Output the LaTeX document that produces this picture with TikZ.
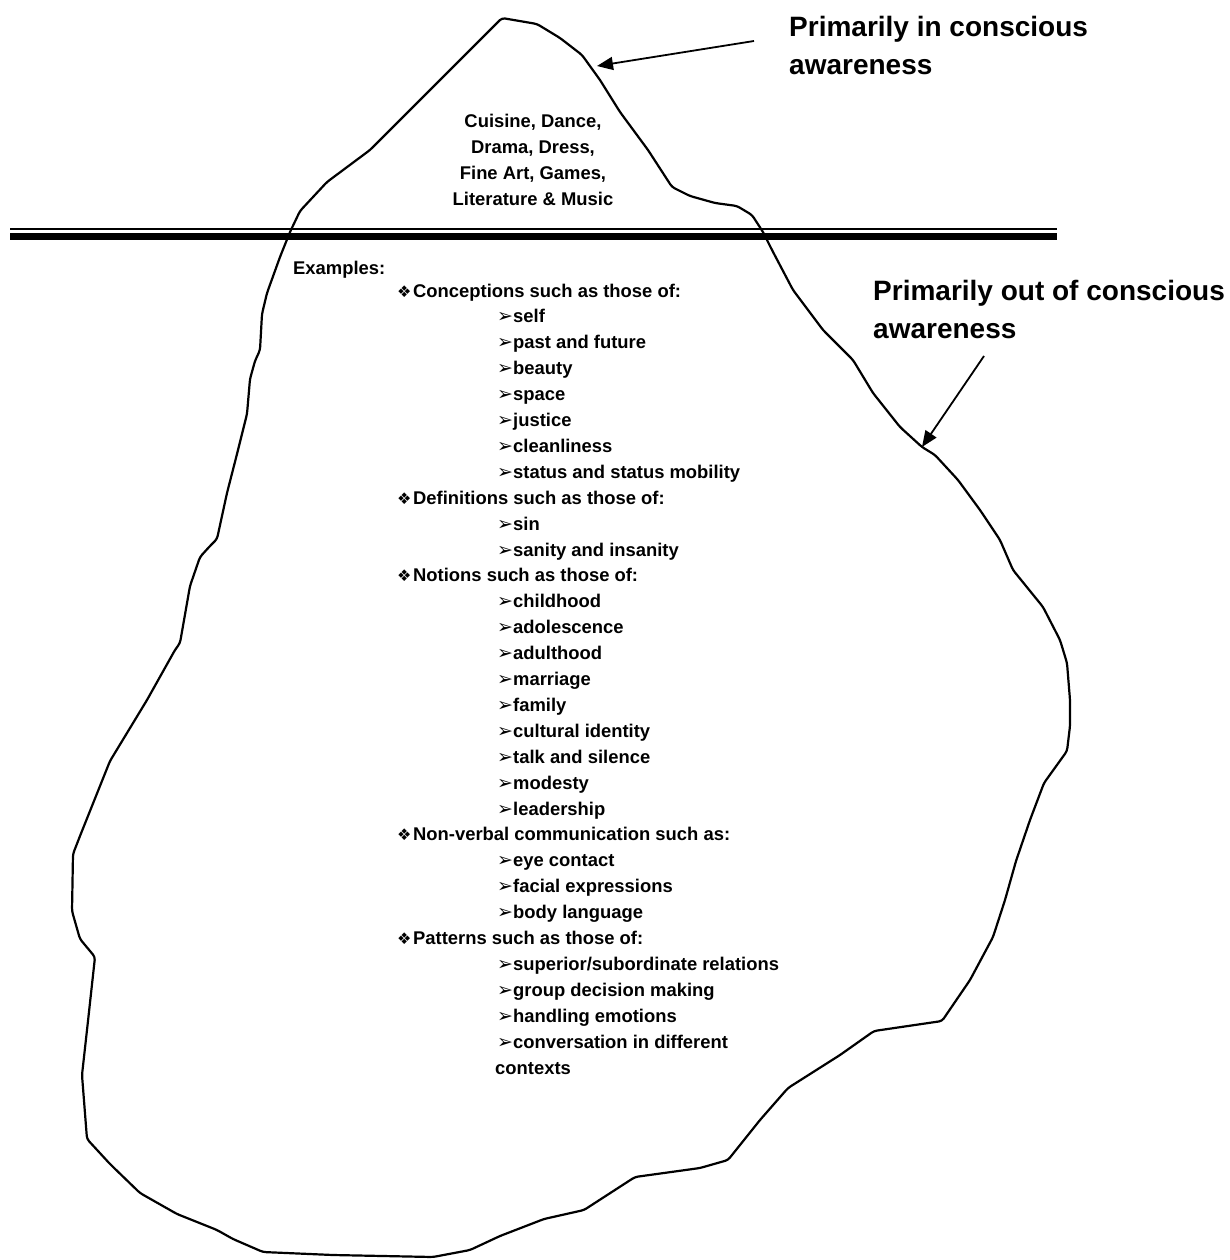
\documentclass[tikz,border=0pt]{standalone}
\usepackage{fontspec}
\setmainfont{Liberation Sans}
\newfontfamily\symfont{DejaVu Sans}
\usetikzlibrary{arrows.meta}
\newcommand\mydia{\makebox[16pt][l]{\raisebox{0pt}{\symfont\fontsize{16}{16}\selectfont ❖}}}
\newcommand\myarr{\makebox[16pt][l]{\raisebox{0pt}{\symfont\fontsize{19}{19}\selectfont ➢}}}
\begin{document}
\begin{tikzpicture}[x=1pt,y=-1pt,
  outline/.style={line width=2.2pt, line join=round, rounded corners=3pt},
  listtxt/.style={anchor=base west, inner sep=0pt, font=\bfseries\fontsize{18.4}{25.8}\selectfont},
  toptxt/.style={anchor=base, inner sep=0pt, font=\bfseries\fontsize{18.4}{25.8}\selectfont},
  lbl/.style={anchor=base west, inner sep=0pt, font=\bfseries\fontsize{28}{38}\selectfont},
  pointer/.style={line width=1.8pt, -{Triangle[length=16pt,width=13pt]}}]
\fill[white] (0,0) rectangle (1229,1260);
\useasboundingbox (0,0) rectangle (1229,1260);

% iceberg outline
\draw[outline] (502,18) -- (537,24) -- (560,38) -- (582,55) -- (600,80) -- (620,112) -- (648,150)
  -- (672,187) -- (690,196) -- (715,203) -- (737,206) -- (752,215) -- (763,232) -- (772,250)
  -- (793,290) -- (823,330) -- (853,360) -- (873,393) -- (900,427) -- (922,447) -- (935,455)
  -- (958,480) -- (980,510) -- (1000,540) -- (1013,570) -- (1043,607) -- (1060,640) -- (1067,663)
  -- (1070,700) -- (1070,726) -- (1067,751) -- (1044,783) -- (1030,820) -- (1016,861) -- (1005,900)
  -- (993,937) -- (970,980) -- (942,1021) -- (874,1031) -- (840,1055) -- (788,1088) -- (760,1120)
  -- (728,1160) -- (700,1168) -- (635,1177) -- (584,1210) -- (544,1219) -- (500,1236) -- (470,1250)
  -- (433,1257) -- (333,1255) -- (263,1252) -- (233,1239) -- (217,1230) -- (177,1214) -- (140,1193)
  -- (110,1164) -- (87,1139) -- (82,1075) -- (88,1021) -- (95,957) -- (80,939) -- (72,911)
  -- (73,854) -- (80,836) -- (110,761) -- (147,700) -- (175,650) -- (180,643) -- (190,586)
  -- (200,557) -- (210,546) -- (217,539) -- (227,493) -- (237,454) -- (247,414) -- (250,379)
  -- (255,361) -- (260,350) -- (262,314) -- (267,293) -- (280,257) -- (290,232) -- (300,211)
  -- (327,182) -- (370,150) -- (410,110) -- cycle;

% water line (double)
\draw[line width=1.8pt] (10,229.2) -- (1057,229.2);
\draw[line width=6.8pt] (10,236.7) -- (1057,236.7);

% visible culture
\node[toptxt] (t1) at (533,128) {Cuisine, Dance,};
\node[toptxt] (t2) at (533,154) {Drama, Dress,};
\node[toptxt] (t3) at (533,180) {Fine Art, Games,};
\node[toptxt] (t4) at (533,205) {Literature \& Music};

% labels and pointers
\node[lbl] (above) at (789,37) {Primarily in conscious};
\node[lbl] (above2) at (789,75) {awareness};
\node[lbl] (below) at (873,300) {Primarily out of conscious};
\node[lbl] (below2) at (873,338) {awareness};
\coordinate (tail1) at (754,41);
\coordinate (tip1) at (597,66);
\coordinate (tail2) at (984,356);
\coordinate (tip2) at (922,447);
\draw[pointer] (tail1) -- (tip1);
\draw[pointer] (tail2) -- (tip2);

% hidden culture list
\node[listtxt] (ex) at (293,274) {Examples:};
\node[listtxt] (h1) at (397,297) {\mydia Conceptions such as those of:};
\node[listtxt] (a1) at (497,322.9) {\myarr self};
\node[listtxt] (a2) at (497,348.8) {\myarr past and future};
\node[listtxt] (a3) at (497,374.7) {\myarr beauty};
\node[listtxt] (a4) at (497,400.6) {\myarr space};
\node[listtxt] (a5) at (497,426.5) {\myarr justice};
\node[listtxt] (a6) at (497,452.4) {\myarr cleanliness};
\node[listtxt] (a7) at (497,478.3) {\myarr status and status mobility};
\node[listtxt] (h2) at (397,504.2) {\mydia Definitions such as those of:};
\node[listtxt] (b1) at (497,530.1) {\myarr sin};
\node[listtxt] (b2) at (497,556) {\myarr sanity and insanity};
\node[listtxt] (h3) at (397,581.9) {\mydia Notions such as those of:};
\node[listtxt] (c1) at (497,607.8) {\myarr childhood};
\node[listtxt] (c2) at (497,633.7) {\myarr adolescence};
\node[listtxt] (c3) at (497,659.6) {\myarr adulthood};
\node[listtxt] (c4) at (497,685.5) {\myarr marriage};
\node[listtxt] (c5) at (497,711.4) {\myarr family};
\node[listtxt] (c6) at (497,737.3) {\myarr cultural identity};
\node[listtxt] (c7) at (497,763.2) {\myarr talk and silence};
\node[listtxt] (c8) at (497,789.1) {\myarr modesty};
\node[listtxt] (c9) at (497,815) {\myarr leadership};
\node[listtxt] (h4) at (397,840.9) {\mydia Non-verbal communication such as:};
\node[listtxt] (d1) at (497,866.8) {\myarr eye contact};
\node[listtxt] (d2) at (497,892.7) {\myarr facial expressions};
\node[listtxt] (d3) at (497,918.6) {\myarr body language};
\node[listtxt] (h5) at (397,944.5) {\mydia Patterns such as those of:};
\node[listtxt] (e1) at (497,970.4) {\myarr superior/subordinate relations};
\node[listtxt] (e2) at (497,996.3) {\myarr group decision making};
\node[listtxt] (e3) at (497,1022.2) {\myarr handling emotions};
\node[listtxt] (e4) at (497,1048.1) {\myarr conversation in different};
\node[listtxt] (e5) at (495,1074) {contexts};
\end{tikzpicture}
\end{document}
